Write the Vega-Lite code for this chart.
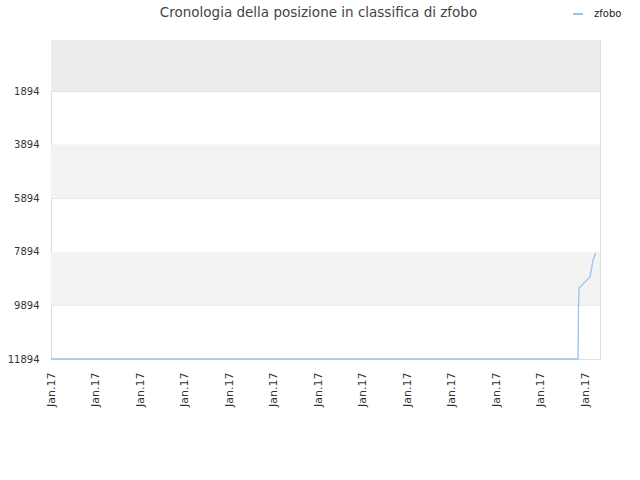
{
  "$schema": "https://vega.github.io/schema/vega-lite/v6.json",
  "autosize": "none",
  "width": 549,
  "height": 319,
  "padding": {"left": 51, "top": 40, "right": 40, "bottom": 121},
  "background": "white",
  "title": {
    "text": "Cronologia della posizione in classifica di zfobo",
    "font": "DejaVu Sans",
    "fontSize": 13.5,
    "fontWeight": "normal",
    "color": "#444444",
    "anchor": "middle",
    "dx": -7,
    "offset": -11
  },
  "datasets": {
    "bands": [
      {"y0": -9, "y1": 1894, "shade": "top"},
      {"y0": 3894, "y1": 5894, "shade": "mid"},
      {"y0": 7894, "y1": 9894, "shade": "mid"}
    ],
    "ranks": [
      {"player": "zfobo", "date": "2017-01-01T00:00:00Z", "rank": 11894},
      {"player": "zfobo", "date": "2017-01-12T20:14:00Z", "rank": 11894},
      {"player": "zfobo", "date": "2017-01-12T20:30:00Z", "rank": 9894},
      {"player": "zfobo", "date": "2017-01-12T20:46:00Z", "rank": 9245},
      {"player": "zfobo", "date": "2017-01-13T02:41:00Z", "rank": 8834},
      {"player": "zfobo", "date": "2017-01-13T03:37:00Z", "rank": 8498},
      {"player": "zfobo", "date": "2017-01-13T04:19:00Z", "rank": 8200},
      {"player": "zfobo", "date": "2017-01-13T05:46:00Z", "rank": 7939}
    ]
  },
  "config": {
    "font": "DejaVu Sans",
    "view": {"stroke": "#dddddd"},
    "axis": {
      "labelFont": "DejaVu Sans",
      "labelFontSize": 10,
      "labelColor": "#333333",
      "domain": false,
      "ticks": false,
      "zindex": 1
    }
  },
  "layer": [
    {
      "data": {"name": "bands"},
      "mark": {"type": "rect"},
      "encoding": {
        "y": {
          "field": "y0",
          "type": "quantitative",
          "scale": {"domain": [-9, 11894], "reverse": true, "nice": false, "zero": false},
          "axis": {
            "title": null,
            "values": [1894, 3894, 5894, 7894, 9894, 11894],
            "format": "d",
            "grid": true,
            "gridColor": "#e0e0e0",
            "labelPadding": 12
          }
        },
        "y2": {"field": "y1"},
        "fill": {
          "field": "shade",
          "type": "nominal",
          "scale": {"domain": ["top", "mid"], "range": ["#ececec", "#f3f3f3"]},
          "legend": null
        }
      }
    },
    {
      "data": {"name": "ranks"},
      "mark": {"type": "line", "strokeWidth": 1.3, "interpolate": "linear"},
      "encoding": {
        "x": {
          "field": "date",
          "type": "temporal",
          "scale": {
            "type": "utc",
            "domain": [
              {"year": 2017, "month": 1, "date": 1, "utc": true},
              {"year": 2017, "month": 1, "date": 13, "hours": 8, "minutes": 5, "utc": true}
            ]
          },
          "axis": {
            "title": null,
            "grid": false,
            "tickCount": {"interval": "day", "step": 1},
            "labelExpr": "utcFormat(datum.value, '%b.%y')",
            "labelAngle": -90,
            "labelAlign": "right",
            "labelBaseline": "middle",
            "labelPadding": 13,
            "labelFontSize": 11,
            "labelOverlap": false
          }
        },
        "y": {
          "field": "rank",
          "type": "quantitative",
          "axis": {
            "title": null,
            "values": [1894, 3894, 5894, 7894, 9894, 11894],
            "format": "d",
            "grid": true,
            "gridColor": "#e0e0e0",
            "labelPadding": 12
          }
        },
        "stroke": {
          "field": "player",
          "type": "nominal",
          "scale": {"range": ["#99c2f0"]},
          "legend": {
            "title": null,
            "orient": "none",
            "legendX": 521,
            "legendY": -32,
            "symbolType": "stroke",
            "symbolSize": 100,
            "symbolStrokeWidth": 2,
            "labelOffset": 10,
            "labelFontSize": 10,
            "labelColor": "#222222",
            "labelFont": "DejaVu Sans"
          }
        }
      }
    }
  ]
}
